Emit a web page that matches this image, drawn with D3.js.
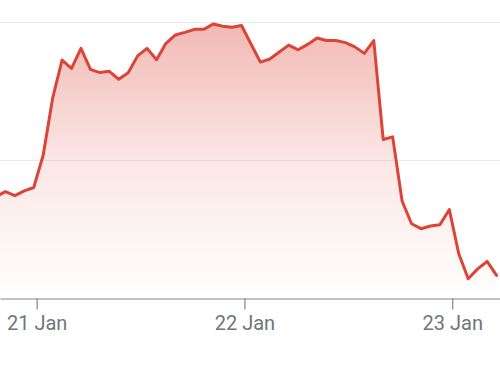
<!DOCTYPE html>
<html>
<head>
<meta charset="utf-8">
<script src="https://cdn.jsdelivr.net/npm/d3@7"></script>
<style>
  html, body { margin: 0; padding: 0; background: #fff; }
  svg { display: block; }
</style>
</head>
<body>
<div id="chart"></div>
<script>
// ---- data ----
// sample timing: first sample (index 0) on 20 Jan, samples every 1440/22 minutes
const seriesStart = new Date(2025, 0, 20, 19, 18);
const stepMinutes = 1440 / 22;
const values = [
  107.36, 107.73, 107.44, 107.78, 108.03, 110.36, 114.49, 117.25, 116.64, 118.09,
  116.57, 116.34, 116.43, 115.86, 116.33, 117.55, 118.09, 117.27, 118.46, 119.06,
  119.25, 119.47, 119.47, 119.86, 119.69, 119.62, 119.75, 118.41, 117.10, 117.32,
  117.83, 118.33, 117.99, 118.38, 118.84, 118.66, 118.66, 118.51, 118.20, 117.73,
  118.66, 111.50, 111.69, 107.05, 105.41, 105.05, 105.24, 105.34, 106.43, 103.24,
  101.43, 102.14, 102.68, 101.67
];
const xDomain = [new Date(2025, 0, 20, 19, 46), new Date(2025, 0, 23, 5, 31)];
const yDomain = [100, 120];
const yGridValues = [110, 120];
const xTickValues = [new Date(2025, 0, 21), new Date(2025, 0, 22), new Date(2025, 0, 23)];

const data = values.map((v, i) => ({
  t: new Date(seriesStart.getTime() + i * stepMinutes * 60000),
  v: v
}));

// ---- layout ----
const W = 500, H = 365;
const plotTop = 22, plotBottom = 298.5;

const svg = d3.select("#chart").append("svg")
  .attr("width", W).attr("height", H);

const x = d3.scaleTime().domain(xDomain).range([0, W]);
const y = d3.scaleLinear().domain(yDomain).range([plotBottom, plotTop]);

const defs = svg.append("defs");
const grad = defs.append("linearGradient")
  .attr("id", "fillGrad")
  .attr("gradientUnits", "userSpaceOnUse")
  .attr("x1", 0).attr("x2", 0)
  .attr("y1", plotTop).attr("y2", plotBottom);
grad.append("stop").attr("offset", "0%").attr("stop-color", "#db4437").attr("stop-opacity", 0.38);
grad.append("stop").attr("offset", "50%").attr("stop-color", "#db4437").attr("stop-opacity", 0.13);
grad.append("stop").attr("offset", "100%").attr("stop-color", "#db4437").attr("stop-opacity", 0.0);

defs.append("clipPath").attr("id", "clip")
  .append("rect").attr("x", 0).attr("y", 0).attr("width", W).attr("height", plotBottom);

// gridlines
svg.append("g").selectAll("line")
  .data(yGridValues)
  .join("line")
  .attr("x1", 0).attr("x2", W)
  .attr("y1", d => Math.round(y(d)) + 0.5)
  .attr("y2", d => Math.round(y(d)) + 0.5)
  .attr("stroke", "#ebebeb")
  .attr("stroke-width", 1);

const g = svg.append("g").attr("clip-path", "url(#clip)");

const area = d3.area()
  .x(d => x(d.t))
  .y0(y(yDomain[0]))
  .y1(d => y(d.v));

const line = d3.line()
  .x(d => x(d.t))
  .y(d => y(d.v));

g.append("path")
  .datum(data)
  .attr("d", area)
  .attr("fill", "url(#fillGrad)");

g.append("path")
  .datum(data)
  .attr("d", line)
  .attr("fill", "none")
  .attr("stroke", "#db4437")
  .attr("stroke-width", 3)
  .attr("stroke-linejoin", "round")
  .attr("stroke-linecap", "round");

// x axis
const axis = svg.append("g")
  .attr("transform", `translate(0,${plotBottom})`)
  .call(d3.axisBottom(x)
    .tickValues(xTickValues)
    .tickFormat(d3.timeFormat("%-d %b"))
    .tickSize(11)
    .tickSizeOuter(0)
    .tickPadding(6));

axis.select(".domain").attr("stroke", "#80868b").attr("stroke-width", 1.2);
axis.selectAll(".tick line").attr("stroke", "#80868b").attr("stroke-width", 1.2);
axis.selectAll(".tick text")
  .attr("fill", "#70757a")
  .attr("font-family", "Roboto, 'Noto Sans', sans-serif")
  .attr("font-size", 20);
</script>
</body>
</html>
